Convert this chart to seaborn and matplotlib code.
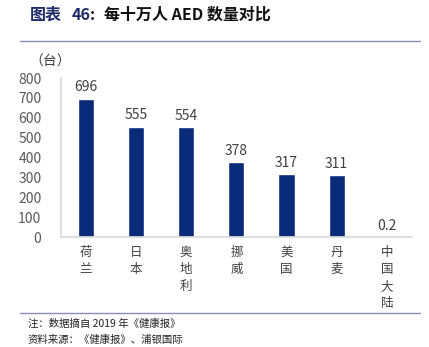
import matplotlib
matplotlib.use("Agg")
import matplotlib.pyplot as plt
import seaborn as sns
import pandas as pd

categories = ["荷兰", "日本", "奥地利", "挪威", "美国", "丹麦", "中国大陆"]
values = [696, 555, 554, 378, 317, 311, 0.2]
value_labels = ["696", "555", "554", "378", "317", "311", "0.2"]
yticks = [0, 100, 200, 300, 400, 500, 600, 700, 800]

sns.set_theme(style="white")
plt.rcParams['font.family'] = ['Noto Sans CJK SC', 'DejaVu Sans']

fig = plt.figure(figsize=(4.29, 3.47), dpi=100)
ax = fig.add_axes([0.142, 0.317, 0.818, 0.458])

df = pd.DataFrame({"cat": categories, "val": values})
sns.barplot(data=df, x="cat", y="val", color="#0A2A7A", saturation=1, width=0.32, ax=ax)

ax.set_ylim(0, 800)
ax.set_yticks(yticks)
ax.set_yticklabels([str(t) for t in yticks], color="#595959", fontsize=10)
ax.tick_params(axis='y', length=0, pad=14)
ax.tick_params(axis='x', length=0)
ax.set_xlabel("")
ax.set_ylabel("")
ax.set_xticklabels([])
for s in ["top", "right"]:
    ax.spines[s].set_visible(False)
ax.spines["left"].set_color("#D9D9D9")
ax.spines["bottom"].set_color("#D9D9D9")

for i, (v, lab) in enumerate(zip(values, value_labels)):
    ax.text(i, v + 22, lab, ha="center", va="bottom", fontsize=10, color="#404040")

for i, c in enumerate(categories):
    ax.text(i, -45, "\n".join(c), ha="center", va="top", fontsize=9, color="#404040",
            linespacing=1.4)

fig.text(0.068, 0.822, "（台）", fontsize=10, color="#404040", ha="left", va="center")

# title
ty = 0.958
fig.text(30 / 429, ty, "图表", fontsize=11.5, color="#1F2A6B", fontweight="bold", ha="left", va="center")
fig.text(72 / 429, ty, "46", fontsize=11.5, color="#1F2A6B", fontweight="bold", ha="left", va="center")
fig.text(90 / 429, ty, ":", fontsize=11.5, color="#111111", fontweight="bold", ha="left", va="center")
fig.text(104 / 429, ty, "每十万人 AED 数量对比", fontsize=11.5, color="#111111", fontweight="bold", ha="left", va="center")

fig.add_artist(plt.Line2D([0.047, 0.98], [0.882, 0.882], color="#8C8CB8", lw=1))
fig.add_artist(plt.Line2D([0.047, 0.98], [0.098, 0.098], color="#8C8CB8", lw=1))

fig.text(0.065, 0.068, "注：数据摘自 2019 年《健康报》", fontsize=7.5, color="#222222", ha="left", va="center")
fig.text(0.065, 0.02, "资料来源：《健康报》、浦银国际", fontsize=7.5, color="#222222", ha="left", va="center")

fig.savefig("out.png", dpi=100)
